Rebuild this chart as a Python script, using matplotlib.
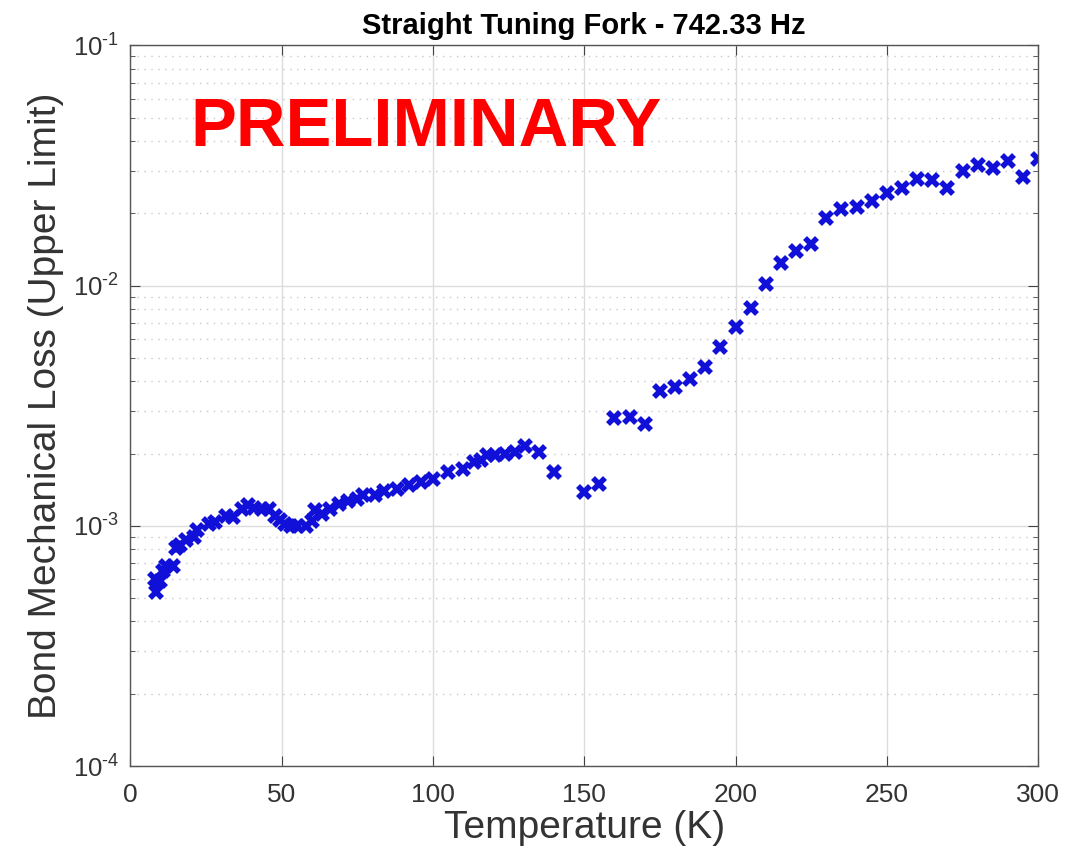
import numpy as np
import matplotlib as mpl
mpl.use('Agg')
import matplotlib.pyplot as plt
from matplotlib.ticker import LogLocator, NullFormatter, MultipleLocator, FuncFormatter

plt.rcParams['font.family'] = ['Liberation Sans', 'DejaVu Sans']
plt.rcParams['mathtext.fontset'] = 'custom'
plt.rcParams['mathtext.rm'] = 'Liberation Sans'
plt.rcParams['mathtext.it'] = 'Liberation Sans'

# temperature (K) and bond loss
temp = [8.5, 8.3, 10, 11, 12, 14, 15, 16.5, 18.5, 21, 22, 26, 28, 31.5, 34, 37, 39, 41,
        43.5, 46, 48, 49.5, 51, 53, 55, 58, 60, 61, 63.5, 66, 69, 72, 75, 77, 81, 84,
        88, 92, 96, 100, 105, 110, 113.5, 116, 118, 120.5, 124, 127, 130.5, 135, 140,
        150, 155, 160, 165, 170, 175, 180, 185, 190, 195, 200, 205, 210, 215, 220, 225,
        230, 235, 240, 245, 250, 255, 260, 265, 270, 275, 280, 285, 290, 295, 300]
loss = [5.3e-4, 6.0e-4, 5.9e-4, 6.5e-4, 6.8e-4, 6.8e-4, 8.1e-4, 8.3e-4, 8.7e-4, 9.0e-4,
        9.6e-4, 1.02e-3, 1.04e-3, 1.10e-3, 1.09e-3, 1.18e-3, 1.22e-3, 1.19e-3, 1.18e-3,
        1.18e-3, 1.10e-3, 1.06e-3, 1.02e-3, 1.0e-3, 1.0e-3, 1.0e-3, 1.05e-3, 1.16e-3,
        1.12e-3, 1.18e-3, 1.23e-3, 1.27e-3, 1.29e-3, 1.35e-3, 1.35e-3, 1.40e-3, 1.43e-3,
        1.48e-3, 1.52e-3, 1.57e-3, 1.68e-3, 1.73e-3, 1.84e-3, 1.88e-3, 1.97e-3, 1.97e-3,
        2.0e-3, 2.03e-3, 2.15e-3, 2.03e-3, 1.68e-3, 1.38e-3, 1.50e-3, 2.8e-3, 2.85e-3,
        2.65e-3, 3.63e-3, 3.8e-3, 4.07e-3, 4.57e-3, 5.53e-3, 6.7e-3, 8.1e-3, 1.02e-2,
        1.24e-2, 1.40e-2, 1.49e-2, 1.92e-2, 2.08e-2, 2.12e-2, 2.24e-2, 2.44e-2, 2.54e-2,
        2.77e-2, 2.74e-2, 2.54e-2, 2.99e-2, 3.17e-2, 3.08e-2, 3.29e-2, 2.83e-2, 3.36e-2]

fig = plt.figure(figsize=(10.67, 8.56), dpi=100)
ax = fig.add_axes([0.122, 0.105, 0.851, 0.842])

ax.set_yscale('log')
ax.plot(temp, loss, 'x', color='#1010d8', markersize=9, markeredgewidth=4)

ax.set_xlim(0, 300)
ax.set_ylim(1e-4, 1e-1)
ax.xaxis.set_major_locator(MultipleLocator(50))
ax.yaxis.set_major_locator(LogLocator(base=10, numticks=10))
ax.yaxis.set_major_formatter(FuncFormatter(
    lambda v, p: r'$\mathregular{10^{\text{-}%d}}$' % round(-np.log10(v))))
ax.yaxis.set_minor_locator(LogLocator(base=10, subs=np.arange(2, 10), numticks=20))
ax.yaxis.set_minor_formatter(NullFormatter())

ax.grid(True, which='major', color='#dcdcdc', linewidth=1, linestyle='-')
ax.grid(True, which='minor', axis='y', color='#c8c8c8', linewidth=1, linestyle=(0, (1, 4)))
ax.set_axisbelow(True)

ax.tick_params(which='both', direction='in', top=True, right=True, color='#444444')
ax.tick_params(which='major', length=7, labelcolor='#333333')
ax.tick_params(axis='x', which='major', labelsize=19, pad=12)
ax.tick_params(axis='y', which='major', labelsize=18.5, pad=8)
ax.tick_params(which='minor', length=3.5)
for s in ax.spines.values():
    s.set_color('#555555')
    s.set_linewidth(1)

ax.set_xlabel('Temperature (K)', fontsize=28, color='#333333', labelpad=2)
ax.set_ylabel('Bond Mechanical Loss (Upper Limit)', fontsize=28, color='#333333', labelpad=6)
ax.set_title('Straight Tuning Fork - 742.33 Hz', fontsize=21, fontweight='bold', pad=8)

ax.text(0.066, 0.861, 'PRELIMINARY', transform=ax.transAxes, color='#ff0000',
        fontsize=49.5, fontweight='bold', va='baseline', ha='left')

fig.savefig('out.png', dpi=100)
